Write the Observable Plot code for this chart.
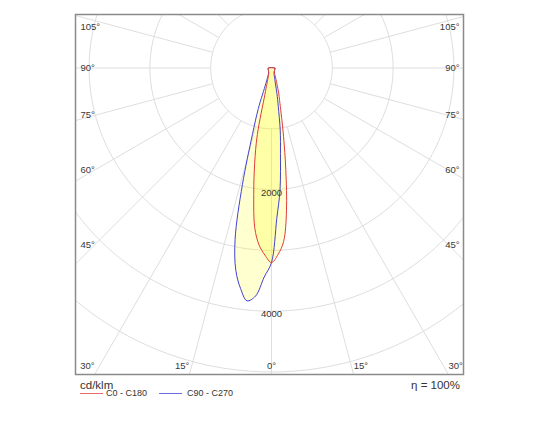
<!DOCTYPE html>
<html>
<head>
<meta charset="utf-8">
<script src="https://cdn.jsdelivr.net/npm/d3@7"></script>
<script src="https://cdn.jsdelivr.net/npm/@observablehq/plot@0.6"></script>
<style>
  body { margin: 0; background: #fff; font-family: "Liberation Sans", Arial, sans-serif; color: #333; }
  #wrap { position: relative; width: 540px; height: 430px; }
  #wrap svg { position: absolute; left: 0; top: 0; }
  .note { position: absolute; font-size: 11.5px; line-height: 1; white-space: nowrap; color: #333; }
  .leg { position: absolute; font-size: 9px; line-height: 1; white-space: nowrap; color: #333; }
  .swatch { position: absolute; height: 1px; }
</style>
</head>
<body>
<div id="wrap"></div>
<script>
// ---- data (cd/klm) ----
const gammas = [0, 2, 4, 6, 8, 10, 12, 14, 16, 18, 20, 25, 30, 40, 50, 60, 70, 80, 90];
const c0   = [3200, 3070, 2860, 2360, 1690, 1140, 760, 550, 430, 310, 240, 140, 100, 75, 65, 60, 60, 55, 55];
const c180 = [3200, 3080, 2920, 2640, 2100, 1600, 1120, 450, 280, 200, 160, 110, 90, 75, 65, 60, 60, 55, 55];
const c90  = [3200, 2480, 2010, 1410, 1030, 640, 430, 270, 200, 160, 130, 100, 80, 70, 65, 60, 60, 55, 55];
const c270 = [3200, 3440, 3760, 3850, 3660, 3380, 2880, 1980, 1140, 700, 270, 130, 95, 75, 65, 60, 60, 55, 55];

const seriesNames  = ["C0 - C180", "C90 - C270"];
const seriesColors = ["#e03c3c", "#4242d2"];
const legendColors = ["#ec6c6c", "#6c6ce0"];

const gridRadii    = [1000, 2000, 3000, 4000, 5000, 6000];
const radiusLabels = [2000, 4000];
const spokeAngles  = d3.range(0, 360, 15);
const sideAngleLabels   = [105, 90, 75, 60, 45];
const bottomAngleLabels = [-30, -15, 0, 15, 30];
const unitLabel = "cd/klm";
const effLabel  = "η = 100%";

// ---- layout ----
const W = 540, H = 378;
const frame = {left: 75, right: 463, top: 14, bottom: 374};
const center = {x: 271, y: 67.5};
const k = 0.0608;            // px per cd/klm
const xmin = -(center.x - frame.left) / k, xmax = (frame.right - center.x) / k;
const ymin = -(frame.bottom - center.y) / k, ymax = (center.y - frame.top) / k;
const rad = d => d * Math.PI / 180;

// polar (gamma from nadir) -> cartesian data units
const pt = (I, g, side) => ({x: side * I * Math.sin(rad(g)), y: -I * Math.cos(rad(g))});

function lobe(name, right, left) {
  const pts = [];
  for (let i = gammas.length - 1; i >= 0; i--) pts.push({series: name, ...pt(right[i], gammas[i], 1)});
  for (let i = 1; i < gammas.length; i++) pts.push({series: name, ...pt(left[i], gammas[i], -1)});
  return pts;
}
const lobes = [...lobe(seriesNames[1], c90, c270), ...lobe(seriesNames[0], c0, c180)];

const circles = gridRadii.flatMap(r => d3.range(0, 361, 2).map(a => ({r, ...pt(r, a, 1)})));
const spokes = spokeAngles.map(a => {
  const p1 = pt(gridRadii[0], a, 1), p2 = pt(9000, a, 1);
  return {x1: p1.x, y1: p1.y, x2: p2.x, y2: p2.y};
});

// angle label positions
const sideDx = 177 / k;
const sideTopLimit = (center.y - 26) / k;
const sideY = g => Math.min(-sideDx / Math.tan(rad(g)), sideTopLimit);
const leftLabels  = sideAngleLabels.map(g => ({text: g + "°", x: xmin + 5 / k, y: sideY(g)}));
const rightLabels = sideAngleLabels.map(g => ({text: g + "°", x: xmax - 4 / k, y: sideY(g)}));
const bottomDist = (frame.bottom - center.y) / k;
const bottomLabels = bottomAngleLabels.map(g => ({
  text: Math.abs(g) + "°",
  x: bottomDist * Math.tan(rad(g)),
  y: -(365 - center.y) / k,
  anchor: g < 0 ? "end" : g > 0 ? "start" : "middle"
}));

const gridColor = "#dedede";
const labelColor = "#383838";

const chart = Plot.plot({
  width: W, height: H,
  marginLeft: frame.left, marginRight: W - frame.right,
  marginTop: frame.top, marginBottom: H - frame.bottom,
  x: {domain: [xmin, xmax], axis: null},
  y: {domain: [ymin, ymax], axis: null},
  color: {domain: seriesNames, range: seriesColors},
  style: {fontFamily: "'Liberation Sans', Arial, sans-serif", color: "#333", background: "#fff"},
  marks: [
    Plot.line(circles, {x: "x", y: "y", z: "r", stroke: gridColor, strokeWidth: 1, clip: true}),
    Plot.link(spokes, {x1: "x1", y1: "y1", x2: "x2", y2: "y2", stroke: gridColor, strokeWidth: 1, clip: true}),
    Plot.line(lobes, {x: "x", y: "y", z: "series", fill: "#ffff00", fillOpacity: 0.19, stroke: "none", curve: "catmull-rom-closed"}),
    Plot.line(lobes, {x: "x", y: "y", z: "series", stroke: "series", strokeWidth: 1, curve: "catmull-rom-closed"}),
    Plot.text(radiusLabels, {x: 0, y: d => -d, text: d => String(d), dy: 3, fontSize: 9.5, fill: "#333"}),
    Plot.text(leftLabels, {x: "x", y: "y", text: "text", textAnchor: "start", fontSize: 9.5, fill: labelColor}),
    Plot.text(rightLabels, {x: "x", y: "y", text: "text", textAnchor: "end", fontSize: 9.5, fill: labelColor}),
    Plot.text(bottomLabels.filter(d => d.anchor === "end"), {x: "x", y: "y", text: "text", textAnchor: "end", fontSize: 9.5, fill: labelColor}),
    Plot.text(bottomLabels.filter(d => d.anchor === "middle"), {x: "x", y: "y", text: "text", textAnchor: "middle", fontSize: 9.5, fill: labelColor}),
    Plot.text(bottomLabels.filter(d => d.anchor === "start"), {x: "x", y: "y", text: "text", textAnchor: "start", fontSize: 9.5, fill: labelColor}),
    Plot.frame({stroke: "#8a8a8a", strokeWidth: 1.5})
  ]
});

const wrap = document.getElementById("wrap");
wrap.appendChild(chart);

function addDiv(cls, text, css) {
  const d = document.createElement("div");
  d.className = cls;
  if (text) d.textContent = text;
  Object.assign(d.style, css);
  wrap.appendChild(d);
  return d;
}
addDiv("note", unitLabel, {left: "80px", top: "380px"});
addDiv("note", effLabel, {right: "80px", top: "380px"});
// legend
const legX = [80, 159];
const legTextX = [106, 187];
seriesNames.forEach((name, i) => {
  addDiv("swatch", "", {left: legX[i] + "px", top: "393px", width: "23px", backgroundColor: legendColors[i]});
  addDiv("leg", name, {left: legTextX[i] + "px", top: "389px"});
});
</script>
</body>
</html>
